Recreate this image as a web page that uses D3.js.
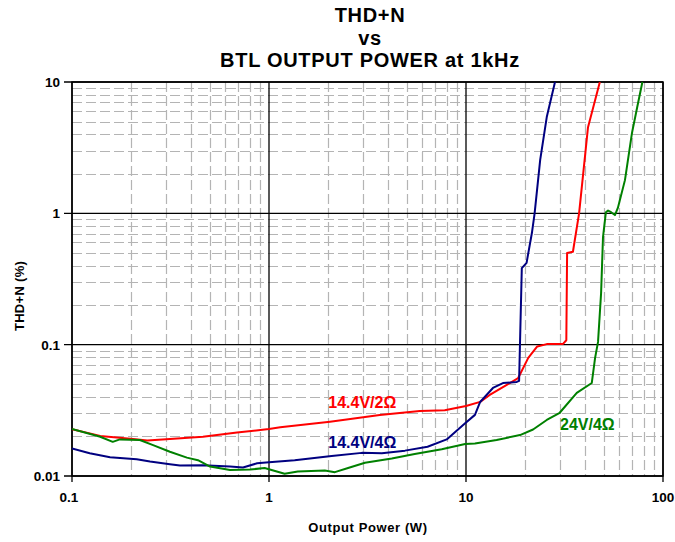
<!DOCTYPE html>
<html>
<head>
<meta charset="utf-8">
<script src="https://cdn.jsdelivr.net/npm/d3@7"></script>
<style>
  body { margin: 0; background: #fff; }
  text { font-family: Arial, "Liberation Sans", sans-serif; font-weight: bold; }
</style>
</head>
<body>
<div id="root"></div>
<script>
// DATA
const titleLines = ["THD+N", "vs", "BTL OUTPUT POWER at 1kHz"];
const xTicks = [0.1, 1, 10, 100];
const yTicks = [0.01, 0.1, 1, 10];

// 14.4V/2ohm
const redPower = [0.1, 0.139, 0.204, 0.241, 0.314, 0.462, 0.688, 1, 1.14, 2.04, 3.65, 5.83, 7.8, 10, 11.8, 13.2, 16.1, 18.4, 20.7, 23.0, 25.7, 31, 32.3, 32.6, 34.9, 37.5, 41.6, 47.8];
const redThd = [0.0227, 0.0202, 0.0191, 0.0186, 0.0191, 0.0199, 0.0214, 0.0228, 0.0235, 0.0259, 0.0291, 0.0312, 0.0317, 0.0341, 0.0367, 0.0414, 0.0494, 0.0557, 0.0794, 0.097, 0.101, 0.101, 0.108, 0.499, 0.51, 1.0, 4.5, 10];

// 14.4V/4ohm
const bluePower = [0.1, 0.123, 0.156, 0.213, 0.249, 0.314, 0.353, 0.462, 0.634, 0.738, 0.87, 1, 1.35, 2.08, 2.96, 3.74, 4.9, 6.38, 7.98, 9.9, 11.1, 11.8, 13.7, 15.4, 18.1, 18.6, 19.2, 20.3, 21.6, 22.3, 23.8, 25.7, 28.3];
const blueThd = [0.0162, 0.0149, 0.0139, 0.0134, 0.0129, 0.0123, 0.012, 0.0121, 0.0118, 0.0116, 0.0125, 0.0127, 0.0132, 0.0142, 0.015, 0.0149, 0.0156, 0.0167, 0.019, 0.0252, 0.0292, 0.0366, 0.0468, 0.051, 0.052, 0.053, 0.383, 0.42, 0.708, 1.0, 2.55, 5.41, 10];

// 24V/4ohm
const greenPower = [0.1, 0.139, 0.161, 0.175, 0.221, 0.258, 0.314, 0.383, 0.436, 0.502, 0.634, 0.801, 0.95, 1.2, 1.4, 1.92, 2.16, 2.52, 3.07, 4.2, 5.49, 7.53, 9.9, 11.1, 14.3, 18.8, 21.9, 25.7, 29.9, 36.5, 43.5, 45.2, 46.8, 48.5, 49.6, 51.3, 52.6, 54.5, 57, 59, 64.1, 69.6, 74.0, 78.6];
const greenThd = [0.0228, 0.0199, 0.0182, 0.019, 0.0188, 0.0172, 0.0153, 0.0138, 0.0132, 0.0118, 0.0111, 0.0112, 0.0115, 0.0104, 0.0108, 0.011, 0.0107, 0.0115, 0.0126, 0.0136, 0.0147, 0.016, 0.0175, 0.0177, 0.0188, 0.0205, 0.0226, 0.0267, 0.0303, 0.0429, 0.0511, 0.079, 0.105, 0.247, 0.66, 1.02, 1.05, 1.02, 0.97, 1.1, 1.79, 4.1, 6.45, 10];

const seriesNames = ["14.4V/2\u03A9", "14.4V/4\u03A9", "24V/4\u03A9"];
const seriesColors = ["#ff0000", "#000080", "#008000"];

// DIMENSIONS
const width = 675, height = 542;
const plotLeft = 72, plotRight = 663, plotTop = 82, plotBottom = 476;

const svg = d3.select('#root').append('svg')
  .attr('width', width)
  .attr('height', height);

const xScale = d3.scaleLog().domain([0.1, 100]).range([plotLeft, plotRight]);
const yScale = d3.scaleLog().domain([0.01, 10]).range([plotBottom, plotTop]);

// minor grid values (2..9 of each decade)
const minorX = [], minorY = [];
[0.1, 1, 10].forEach(d => { for (let k = 2; k <= 9; k++) minorX.push(d * k); });
[0.01, 0.1, 1].forEach(d => { for (let k = 2; k <= 9; k++) minorY.push(d * k); });

svg.append('g').selectAll('line')
  .data(minorX).enter().append('line')
  .attr('x1', d => Math.round(xScale(d)) + 0.5).attr('x2', d => Math.round(xScale(d)) + 0.5)
  .attr('y1', plotTop).attr('y2', plotBottom)
  .attr('stroke', '#b4b4b4').attr('stroke-width', 1.2)
  .attr('stroke-dasharray', '10,4');

svg.append('g').selectAll('line')
  .data(minorY).enter().append('line')
  .attr('y1', d => Math.round(yScale(d)) + 0.5).attr('y2', d => Math.round(yScale(d)) + 0.5)
  .attr('x1', plotLeft).attr('x2', plotRight)
  .attr('stroke', '#b4b4b4').attr('stroke-width', 1.2)
  .attr('stroke-dasharray', '10,4');

// major grid + outside ticks
svg.append('g').selectAll('line')
  .data(xTicks).enter().append('line')
  .attr('x1', d => xScale(d)).attr('x2', d => xScale(d))
  .attr('y1', plotTop).attr('y2', plotBottom + 6)
  .attr('stroke', '#000').attr('stroke-width', 1.3);

svg.append('g').selectAll('line')
  .data(yTicks).enter().append('line')
  .attr('y1', d => yScale(d)).attr('y2', d => yScale(d))
  .attr('x1', plotLeft - 8).attr('x2', plotRight)
  .attr('stroke', '#000').attr('stroke-width', 1.3);

// frame
svg.append('rect')
  .attr('x', plotLeft).attr('y', plotTop)
  .attr('width', plotRight - plotLeft).attr('height', plotBottom - plotTop)
  .attr('fill', 'none').attr('stroke', '#000').attr('stroke-width', 1.5);

// tick labels
svg.append('g').selectAll('text')
  .data(xTicks).enter().append('text')
  .attr('x', d => xScale(d) - (d < 1 ? 3 : 0)).attr('y', 502)
  .attr('text-anchor', 'middle')
  .style('font-size', '13.5px')
  .text(d => d3.format('~g')(d));

svg.append('g').selectAll('text')
  .data(yTicks).enter().append('text')
  .attr('x', 60).attr('y', d => yScale(d) + 5)
  .attr('text-anchor', 'end')
  .style('font-size', '13.5px')
  .text(d => d3.format('~g')(d));

// lines
const line = d3.line()
  .x(d => xScale(d[0]))
  .y(d => yScale(d[1]));

const series = [
  redPower.map((p, i) => [p, redThd[i]]),
  bluePower.map((p, i) => [p, blueThd[i]]),
  greenPower.map((p, i) => [p, greenThd[i]])
];

svg.append('defs').append('clipPath').attr('id', 'clip')
  .append('rect').attr('x', plotLeft).attr('y', plotTop - 1)
  .attr('width', plotRight - plotLeft).attr('height', plotBottom - plotTop + 1);

svg.append('g').attr('clip-path', 'url(#clip)')
  .selectAll('path')
  .data(series).enter().append('path')
  .attr('d', d => line(d))
  .attr('fill', 'none')
  .attr('stroke', (d, i) => seriesColors[i])
  .attr('stroke-width', 2)
  .attr('stroke-linejoin', 'round');

// series labels
const labelPos = [[2.0, 0.0329], [2.0, 0.0163], [30, 0.0224]];
svg.append('g').selectAll('text')
  .data(seriesNames).enter().append('text')
  .attr('x', (d, i) => xScale(labelPos[i][0]))
  .attr('y', (d, i) => yScale(labelPos[i][1]))
  .attr('fill', (d, i) => seriesColors[i])
  .style('font-size', '16px')
  .text(d => d);

// title lines
svg.append('g').selectAll('text')
  .data(titleLines).enter().append('text')
  .attr('x', 370).attr('y', (d, i) => 22 + i * 22.5)
  .attr('text-anchor', 'middle')
  .style('font-size', '20px')
  .style('letter-spacing', '0.7px')
  .text(d => d);

svg.append('text')
  .attr('x', 368).attr('y', 532)
  .attr('text-anchor', 'middle')
  .style('font-size', '13px')
  .style('letter-spacing', '0.6px')
  .text('Output Power (W)');

svg.append('text')
  .attr('transform', `translate(24, 296) rotate(-90)`)
  .attr('text-anchor', 'middle')
  .style('font-size', '13px')
  .style('letter-spacing', '0.3px')
  .text('THD+N (%)');
</script>
</body>
</html>
